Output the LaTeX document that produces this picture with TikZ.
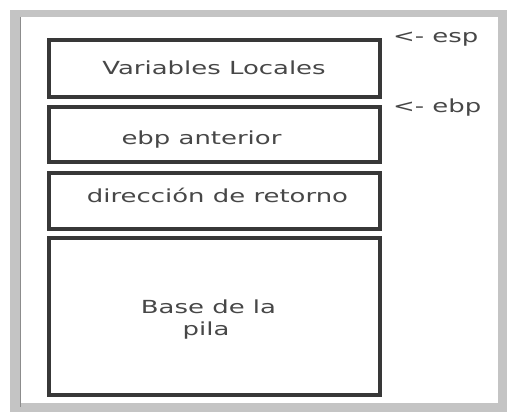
\documentclass[tikz,border=0pt]{standalone}
\usepackage{fontspec}
\setmainfont{DejaVu Sans}[FakeStretch=1.44]
\definecolor{framegray}{HTML}{C4C4C4}
\definecolor{framedark}{HTML}{8C8C8C}
\definecolor{boxline}{HTML}{383838}
\definecolor{txt}{HTML}{474747}
\begin{document}
\begin{tikzpicture}[x=1pt,y=-1pt,
  stackbox/.style={draw=boxline,line width=4pt,fill=white,rectangle,minimum width=331pt,inner sep=0pt,outer sep=0pt},
  lbl/.style={text=txt,font=\fontsize{18}{22}\selectfont,inner sep=0pt,anchor=base},
  ptr/.style={lbl,anchor=base west}]
\useasboundingbox (0,0) rectangle (507,412);
\fill[white] (0,0) rectangle (507,412);
% outer frame
\fill[framegray] (10,10) rectangle (507,412);
\fill[white] (20,17) rectangle (498,403);
\draw[framedark,line width=1.2pt] (20.6,17) -- (20.6,407);
% stack boxes
\node[stackbox,minimum height=57pt] (vl) at (214.5,68.5) {};
\node[stackbox,minimum height=55pt] (ea) at (214.5,134.5) {};
\node[stackbox,minimum height=56pt] (dr) at (214.5,201) {};
\node[stackbox,minimum height=157pt] (bp) at (214.5,316.5) {};
% texts
\node[lbl] (tvl) at (214,75) {Variables Locales};
\node[lbl] (tea) at (201.5,145) {ebp anterior};
\node[lbl] (tdr) at (217.5,203) {dirección de retorno};
\node[lbl] (tbp1) at (208.5,313) {Base de la};
\node[lbl] (tbp2) at (206,335) {pila};
% pointers
\node[ptr] (esp) at (393,43) {<- esp};
\node[ptr] (ebp) at (393,113) {<- ebp};
\end{tikzpicture}
\end{document}
